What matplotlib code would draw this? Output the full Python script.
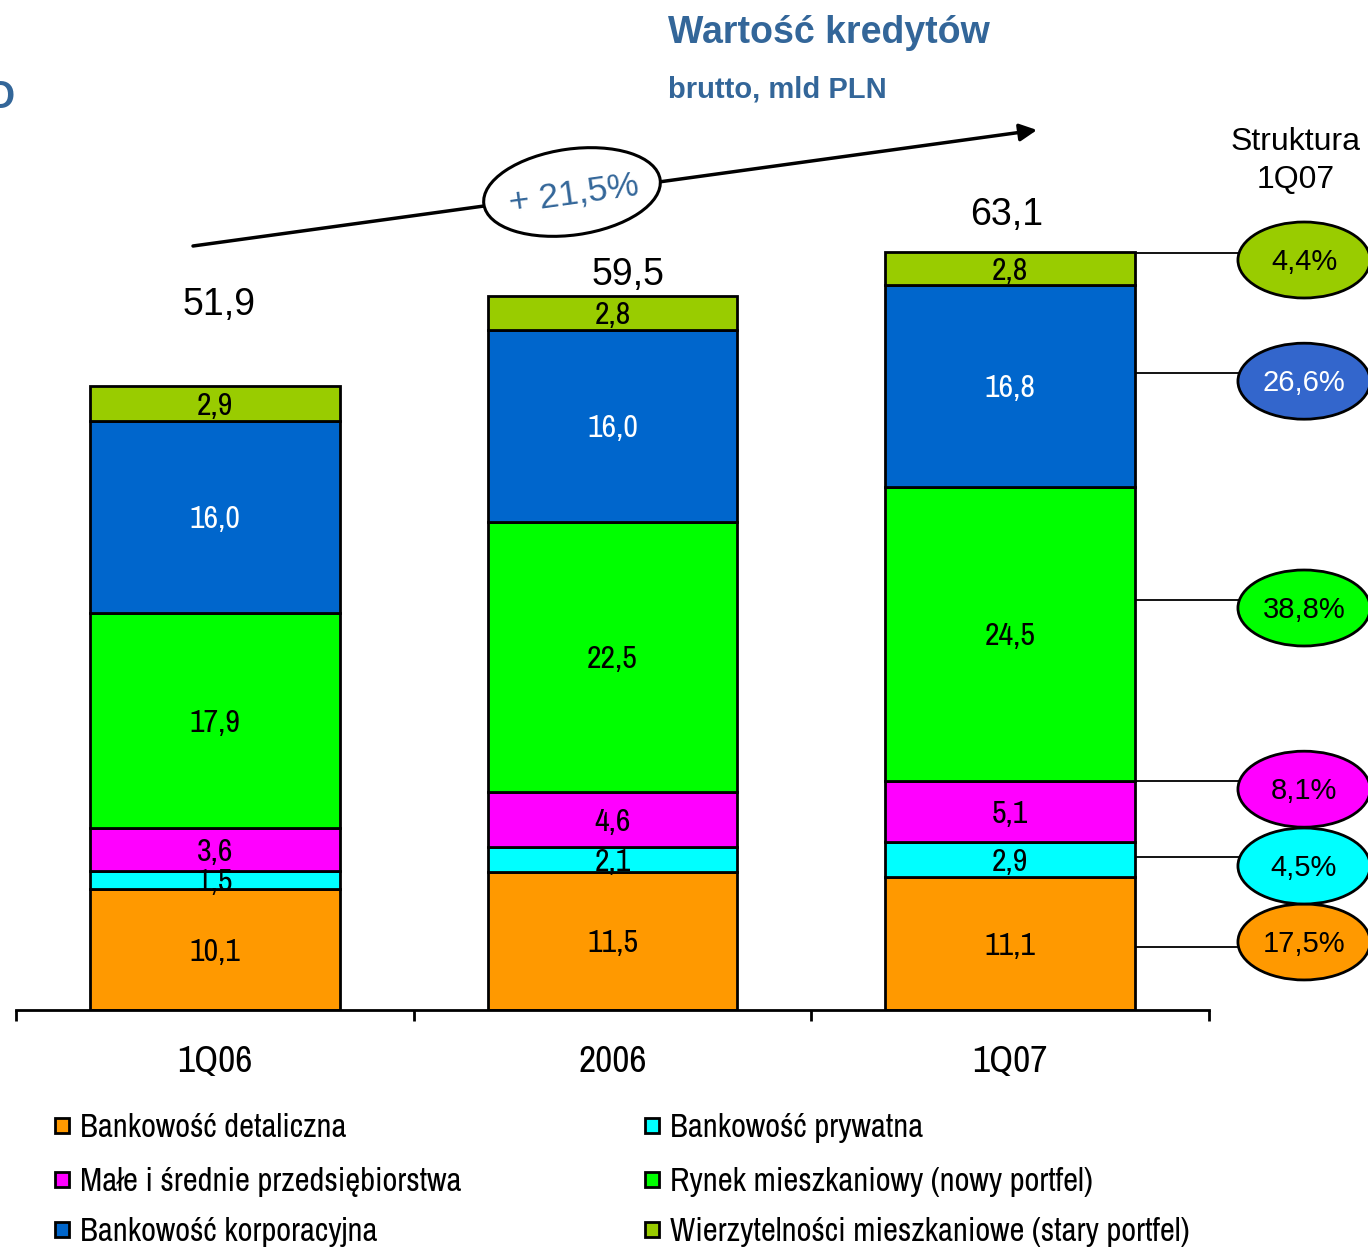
import matplotlib
matplotlib.use("Agg")
import matplotlib.pyplot as plt
from matplotlib.patches import Ellipse, Rectangle, FancyArrowPatch
from matplotlib.lines import Line2D

# ---- data -------------------------------------------------------------
categories = ["1Q06", "2006", "1Q07"]
segments = [
    "Bankowość detaliczna",
    "Bankowość prywatna",
    "Małe i średnie przedsiębiorstwa",
    "Rynek mieszkaniowy (nowy portfel)",
    "Bankowość korporacyjna",
    "Wierzytelności mieszkaniowe (stary portfel)",
]
detaliczna = [10.1, 11.5, 11.1]
prywatna = [1.5, 2.1, 2.9]
msp = [3.6, 4.6, 5.1]
nowy_portfel = [17.9, 22.5, 24.5]
korporacyjna = [16.0, 16.0, 16.8]
stary_portfel = [2.9, 2.8, 2.8]
totals = [51.9, 59.5, 63.1]
totals_text = ["51,9", "59,5", "63,1"]
growth_text = "+ 21,5%"
share_1q07 = [17.5, 4.5, 8.1, 38.8, 26.6, 4.4]  # bottom to top

series = [detaliczna, prywatna, msp, nowy_portfel, korporacyjna, stary_portfel]
colors = ["#FF9900", "#00FFFF", "#FF00FF", "#00FF00", "#0066CC", "#99CC00"]
share_colors = ["#FF9900", "#00FFFF", "#FF00FF", "#00FF00", "#3366CC", "#99CC00"]
label_colors = ["black", "black", "black", "black", "white", "black"]
share_text_colors = ["black", "black", "black", "black", "white", "black"]

BLUE = "#336699"
NARROW = ["Archivo Narrow", "Liberation Sans", "DejaVu Sans"]
SANS = ["Liberation Sans", "DejaVu Sans"]

W, H = 1368, 1247
fig = plt.figure(figsize=(W / 100, H / 100), dpi=100)
fig.patch.set_facecolor("white")


def P(x, y):
    """pixel position (from top-left) -> inches for dpi_scale_trans"""
    return (x / 100.0, (H - y) / 100.0)


# axes: x from -0.5 to 2.5, baseline at 1010 px, 12 px per unit
ax_left, ax_right, ax_bottom, ax_top = 16, 1209, 1010, 110
ax = fig.add_axes([ax_left / W, 1 - ax_bottom / H,
                   (ax_right - ax_left) / W, (ax_bottom - ax_top) / H])
ax.set_xlim(-0.5, 2.5)
ax.set_ylim(0, (ax_bottom - ax_top) / 12.0)
for s in ["top", "left", "right"]:
    ax.spines[s].set_visible(False)
ax.spines["bottom"].set_linewidth(2)
ax.set_yticks([])
ax.set_xticks([-0.5, 0.5, 1.5, 2.5])
ax.set_xticklabels([])
ax.tick_params(axis="x", direction="out", length=8, width=2, color="black")
ax.patch.set_alpha(0)

x = list(range(len(categories)))
bar_w = 0.627
bottoms = [0.0] * len(categories)
for vals, col, lc in zip(series, colors, label_colors):
    ax.bar(x, vals, bar_w, bottom=bottoms, color=col, edgecolor="black",
           linewidth=2, zorder=2)
    for i, v in enumerate(vals):
        ax.text(i, bottoms[i] + v / 2 - 0.2, f"{v:.1f}".replace(".", ","),
                ha="center", va="center", fontsize=23, color=lc,
                family=NARROW, zorder=3)
    bottoms = [b + v for b, v in zip(bottoms, vals)]

# totals above bars
total_offsets = [(0.01, 6.75), (0.04, 1.75), (-0.01, 3.05)]
for i, (t, txt) in enumerate(zip(totals, totals_text)):
    dx, dy = total_offsets[i]
    ax.text(i + dx, bottoms[i] + dy, txt, ha="center", va="center",
            fontsize=27, family=SANS, color="black")

# category labels
for i, c in enumerate(categories):
    ax.text(i, -4.25, c, ha="center", va="center", fontsize=27,
            family=NARROW, clip_on=False)

# structure 1Q07 ovals on the right
ell_x = 2.739
ell_w, ell_h = 132 / 397.0, 76 / 12.0
ell_y = [5.67, 12.0, 18.4, 33.5, 52.4, 62.5]
line_y = [5.25, 12.75, 19.1, 34.2, 53.1, 63.1]
for sh, fc, tc, ey, ly in zip(share_1q07, share_colors, share_text_colors,
                              ell_y, line_y):
    ax.add_line(Line2D([2 + bar_w / 2, ell_x - ell_w / 2 + 0.005], [ly, ly],
                       color="black", lw=1.3, clip_on=False, zorder=1))
    e = Ellipse((ell_x, ey), ell_w, ell_h, facecolor=fc, edgecolor="black",
                lw=2, clip_on=False, zorder=4)
    ax.add_patch(e)
    ax.text(ell_x, ey - 0.15, f"{sh:.1f}%".replace(".", ","), ha="center",
            va="center", fontsize=21, family=SANS, color=tc, zorder=5,
            clip_on=False)

fig.text(1296 / W, 1 - 161 / H, "Struktura\n1Q07", ha="center", va="center",
         fontsize=23, family=SANS, linespacing=1.35)

# titles
fig.text(668 / W, 1 - 33 / H, "Wartość kredytów", ha="left", va="center",
         fontsize=27, fontweight="bold", family=SANS, color=BLUE)
fig.text(668 / W, 1 - 90 / H, "brutto, mld PLN", ha="left", va="center",
         fontsize=21, fontweight="bold", family=SANS, color=BLUE)
fig.text(15 / W, 1 - 98 / H, "O", ha="right", va="center",
         fontsize=27, fontweight="bold", family=SANS, color=BLUE)

# growth arrow with oval
tr = fig.dpi_scale_trans
arrow = FancyArrowPatch(P(193, 246), P(1037, 130), arrowstyle="-|>",
                        mutation_scale=26, lw=2.5, color="black",
                        transform=tr, shrinkA=0, shrinkB=0)
fig.add_artist(arrow)
oval = Ellipse(P(572, 192), 1.78, 0.86, angle=8, facecolor="white",
               edgecolor="black", lw=2.2, transform=tr)
fig.add_artist(oval)
fig.text(574 / W, 1 - 194 / H, growth_text, ha="center", va="center",
         rotation=8, rotation_mode="anchor", fontsize=25.5, family=SANS,
         color=BLUE)

# legend (two columns, filled column-wise)
leg_rows = [1128, 1182, 1232]
leg_cols = [(55, 80), (645, 670)]
order = [0, 2, 4, 1, 3, 5]
for k, (name, col) in enumerate(zip(segments, colors)):
    pos = order.index(k)
    cx, tx = leg_cols[pos // 3]
    ry = leg_rows[pos % 3]
    fig.add_artist(Rectangle(P(cx, ry + 5), 0.14, 0.15, facecolor=col,
                             edgecolor="black", lw=2, transform=tr))
    fig.text(tx / W, 1 - ry / H, name, ha="left", va="center", fontsize=23.5,
             family=NARROW)

fig.savefig("out.png", dpi=100, facecolor="white")
